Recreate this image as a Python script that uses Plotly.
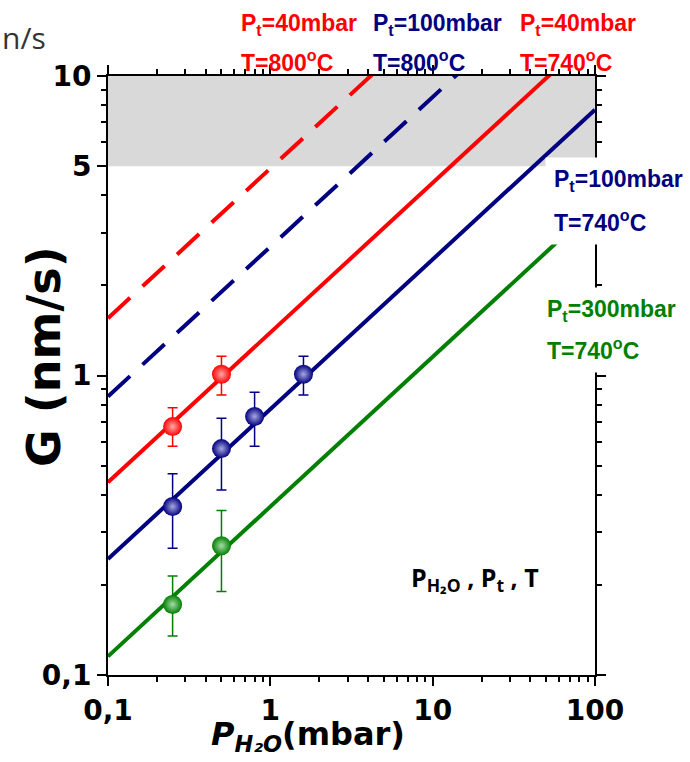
import plotly.graph_objects as go

# ---------------- data ----------------
fit_x = [0.1, 100]
red_solid_y = [0.44, 13.9]      # Pt=40 mbar, T=740 C
blue_solid_y = [0.244, 7.72]    # Pt=100 mbar, T=740 C
green_solid_y = [0.1154, 3.65]  # Pt=300 mbar, T=740 C
red_dash_y = [1.554, 49.1]      # Pt=40 mbar, T=800 C
blue_dash_y = [0.851, 26.9]     # Pt=100 mbar, T=800 C

red_x = [0.25, 0.5]
red_y = [0.675, 1.01]
red_lo = [0.58, 0.86]
red_hi = [0.78, 1.16]

blue_x = [0.25, 0.5, 0.8, 1.6]
blue_y = [0.365, 0.57, 0.73, 1.01]
blue_lo = [0.265, 0.415, 0.58, 0.86]
blue_hi = [0.47, 0.72, 0.88, 1.16]

green_x = [0.25, 0.5]
green_y = [0.172, 0.27]
green_lo = [0.135, 0.19]
green_hi = [0.214, 0.354]

x_tickvals = [0.1, 1, 10, 100]
x_ticktext = ["0,1", "1", "10", "100"]
y_tickvals = [0.1, 1, 5, 10]
y_ticktext = ["0,1", "1", "5", "10"]
minor_vals = [0.2, 0.3, 0.4, 0.5, 0.6, 0.7, 0.8, 0.9, 2, 3, 4, 5, 6, 7, 8, 9,
              20, 30, 40, 50, 60, 70, 80, 90]
y_minor_vals = [0.2, 0.3, 0.4, 0.5, 0.6, 0.7, 0.8, 0.9, 2, 3, 4, 6, 7, 8, 9]
band_range = [5, 10]

RED = "#FF0000"
NAVY = "#000080"
GREEN = "#008000"

# ---------------- layout geometry ----------------
OFF = 0                      # page body margin (removed via post_script)
FW, FH = 690, 762
L, T = 108, 76
PW, PH = 487, 599
R, B = FW - L - PW, FH - T - PH


def px(x):   # page pixel -> paper x
    return (x - OFF - L) / PW


def py(y):   # page pixel -> paper y
    return 1 - (y - OFF - T) / PH


fig = go.Figure()

for y, col, dash in [(red_dash_y, RED, "30px,17px"), (blue_dash_y, NAVY, "30px,17px"),
                     (red_solid_y, RED, "solid"), (blue_solid_y, NAVY, "solid"),
                     (green_solid_y, GREEN, "solid")]:
    fig.add_trace(go.Scatter(x=fit_x, y=y, mode="lines",
                             line=dict(color=col, width=4, dash=dash),
                             showlegend=False, hoverinfo="skip"))


def pts(x, y, lo, hi, col, center):
    fig.add_trace(go.Scatter(
        x=x, y=y, mode="markers", showlegend=False,
        marker=dict(size=19, color=col, line=dict(width=0),
                    gradient=dict(type="radial", color=center)),
        error_y=dict(type="data", symmetric=False,
                     array=[h - v for h, v in zip(hi, y)],
                     arrayminus=[v - l for l, v in zip(lo, y)],
                     color=col, thickness=1.5, width=5)))


pts(red_x, red_y, red_lo, red_hi, RED, "#FFA8A8")
pts(blue_x, blue_y, blue_lo, blue_hi, NAVY, "#A8A8E0")
pts(green_x, green_y, green_lo, green_hi, GREEN, "#A8DCA8")

fig.add_shape(type="rect", xref="paper", x0=0, x1=1, yref="y",
              y0=band_range[0], y1=band_range[1],
              fillcolor="#D9D9D9", line=dict(width=0), layer="below")

axis_common = dict(type="log", showgrid=False, zeroline=False,
                   showline=True, linecolor="black", linewidth=2,
                   ticks="outside", ticklen=9, tickwidth=2, tickcolor="black",
                   mirror="ticks",
                   tickfont=dict(family="DejaVu Sans", size=28,
                                 color="black", weight="bold"))

fig.update_xaxes(range=[-1, 2], tickmode="array", tickvals=x_tickvals,
                 ticktext=x_ticktext,
                 minor=dict(tickmode="array", tickvals=minor_vals,
                            ticks="outside", ticklen=5, tickwidth=1.5,
                            tickcolor="black", showgrid=False),
                 **axis_common)
fig.update_yaxes(range=[-1, 1], tickmode="array", tickvals=y_tickvals,
                 ticktext=y_ticktext,
                 minor=dict(tickmode="array", tickvals=y_minor_vals,
                            ticks="outside", ticklen=5, tickwidth=1.5,
                            tickcolor="black", showgrid=False),
                 **axis_common)

LBL = "Liberation Sans, Arial"
ann = []


def lab(text, x, y, col, bg=None, pad=0):
    a = dict(text=text, xref="paper", yref="paper", x=px(x), y=py(y),
             xanchor="left", yanchor="middle", showarrow=False,
             font=dict(family=LBL, size=23, color=col, weight="bold"),
             align="left")
    if bg:
        a.update(bgcolor=bg, borderpad=pad)
    ann.append(a)


lab("P<sub>t</sub>=40mbar", 239, 25, RED)
lab("T=800<sup>o</sup>C", 239, 61, RED)
lab("P<sub>t</sub>=100mbar", 371, 25, NAVY)
lab("T=800<sup>o</sup>C", 371, 61, NAVY)
lab("P<sub>t</sub>=40mbar", 518, 25, RED)
lab("T=740<sup>o</sup>C", 518, 61, RED)

lab("P<sub>t</sub>=100mbar", 545, 180, NAVY, "white", 8)
lab("T=740<sup>o</sup>C", 545, 221, NAVY, "white", 8)
lab("P<sub>t</sub>=300mbar", 538, 310, GREEN, "white", 8)
lab("T=740<sup>o</sup>C", 538, 349, GREEN, "white", 8)

ann.append(dict(text="P<sub>H₂O</sub> , P<sub>t</sub> , T", xref="paper", yref="paper",
                x=px(541), y=py(578), xanchor="right", yanchor="middle",
                showarrow=False,
                font=dict(family="Open Sans, Noto Sans", size=25, color="black",
                          weight="bold")))

ann.append(dict(text="G (nm/s)", xref="paper", yref="paper",
                x=px(44), y=py(357), xanchor="center", yanchor="middle",
                textangle=-90, showarrow=False,
                font=dict(family="DejaVu Sans", size=46, color="black",
                          weight="bold")))

ann.append(dict(text="<i>P<sub>H₂O</sub></i>(mbar)", xref="paper", yref="paper",
                x=px(308), y=py(736), xanchor="center", yanchor="middle",
                showarrow=False,
                font=dict(family="DejaVu Sans", size=32, color="black",
                          weight="bold")))

ann.append(dict(text="n/s", xref="paper", yref="paper",
                x=px(0), y=py(37), xanchor="left", yanchor="middle",
                showarrow=False,
                font=dict(family="Open Sans, Noto Sans", size=30, color="#333333")))

fig.update_layout(width=FW, height=FH,
                  margin=dict(l=L, r=R, t=T, b=B, pad=0),
                  paper_bgcolor="white", plot_bgcolor="white",
                  showlegend=False, annotations=ann)

fig.write_html("out.html", config={"displayModeBar": False},
               post_script="document.body.style.margin='0px';document.body.style.overflow='hidden';")
